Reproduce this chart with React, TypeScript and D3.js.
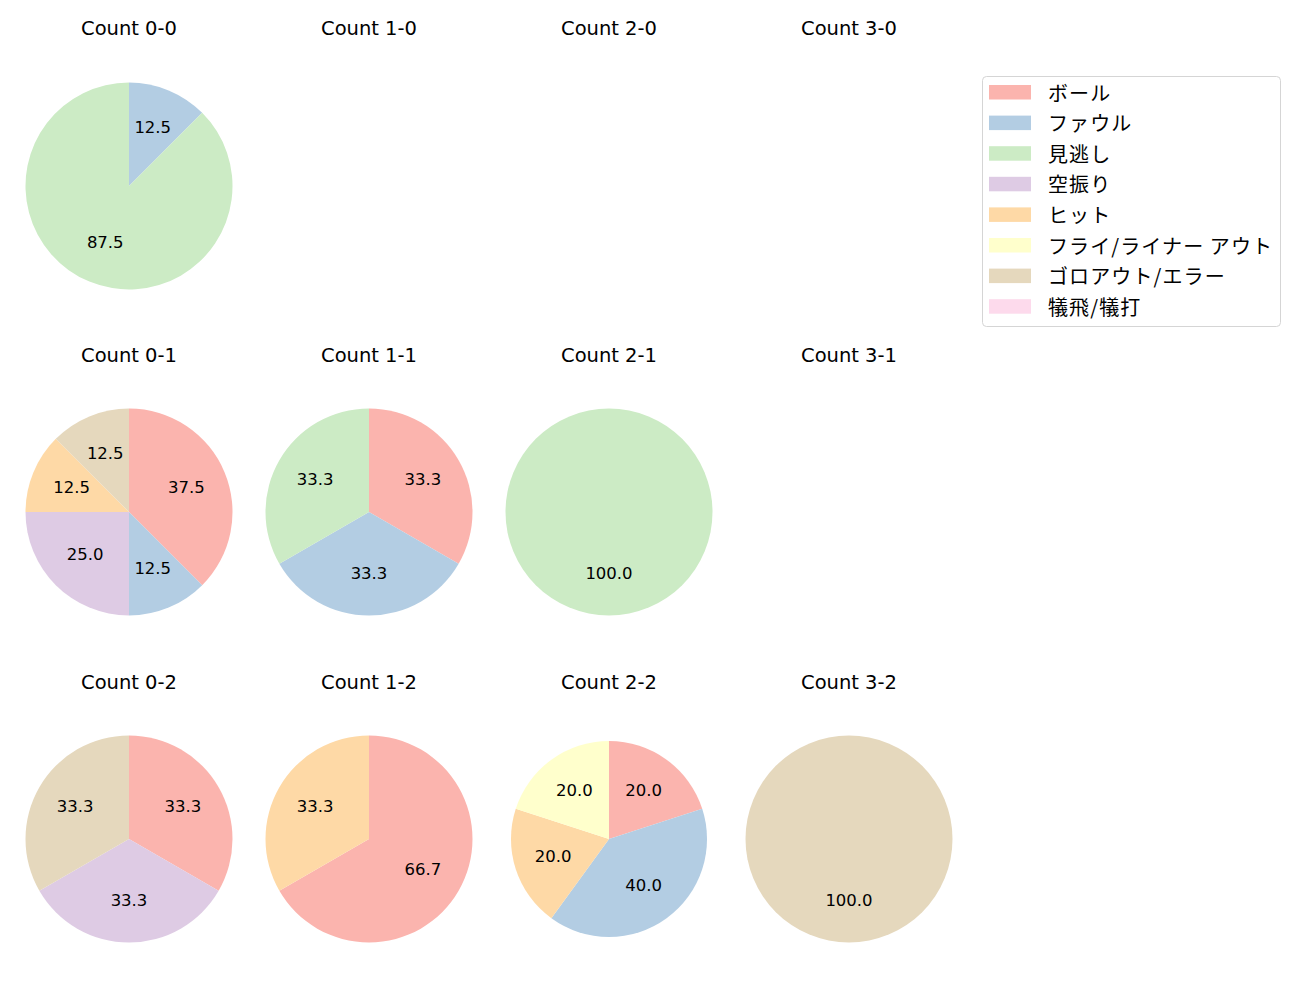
import React from "react";
import * as d3 from "d3";

const categories = ["ボール", "ファウル", "見逃し", "空振り", "ヒット", "フライ/ライナー アウト", "ゴロアウト/エラー", "犠飛/犠打"];
const colors = ["#fbb4ae", "#b3cde3", "#ccebc5", "#decbe4", "#fed9a6", "#ffffcc", "#e5d8bd", "#fddaec"];

const balls = [0, 1, 2, 3];
const strikes = [0, 1, 2];

// values per count, in category order
const count00 = [0, 1, 7, 0, 0, 0, 0, 0];
const count10: number[] = [];
const count20: number[] = [];
const count30: number[] = [];
const count01 = [3, 1, 0, 2, 1, 0, 1, 0];
const count11 = [1, 1, 1, 0, 0, 0, 0, 0];
const count21 = [0, 0, 1, 0, 0, 0, 0, 0];
const count31: number[] = [];
const count02 = [1, 0, 0, 1, 0, 0, 1, 0];
const count12 = [2, 0, 0, 0, 1, 0, 0, 0];
const count22 = [1, 2, 0, 0, 1, 1, 0, 0];
const count32 = [0, 0, 0, 0, 0, 0, 1, 0];

const grid: number[][][] = [
  [count00, count10, count20, count30],
  [count01, count11, count21, count31],
  [count02, count12, count22, count32],
];
const radiusScale = [
  [1, 1, 1, 1],
  [1, 1, 1, 1],
  [1, 1, 0.947, 1],
];

const colX = [129, 369, 609, 849];
const rowY = [186, 512, 839];
const titleY = [28, 355, 682];
const R = 103.5;
const latin = "'DejaVu Sans', 'Noto Sans CJK JP', sans-serif";
const jp = "'Noto Sans CJK JP', 'DejaVu Sans', sans-serif";

function Pie({ values, cx, cy, r }: { values: number[]; cx: number; cy: number; r: number }) {
  const total = d3.sum(values);
  if (!total) return null;
  const data = values.map((v, i) => ({ v, i })).filter((d) => d.v > 0);
  const pie = d3.pie<{ v: number; i: number }>().value((d) => d.v).sort(null).startAngle(0).endAngle(2 * Math.PI);
  const arcs = pie(data);
  const arc = d3.arc<d3.PieArcDatum<{ v: number; i: number }>>().innerRadius(0).outerRadius(r);
  return (
    <g transform={`translate(${cx},${cy})`}>
      {arcs.map((a) => (
        <path key={a.data.i} d={arc(a) || ""} fill={colors[a.data.i]} />
      ))}
      {arcs.map((a) => {
        const mid = (a.startAngle + a.endAngle) / 2;
        const x = Math.sin(mid) * r * 0.6;
        const y = -Math.cos(mid) * r * 0.6;
        return (
          <text key={"t" + a.data.i} x={x} y={y - 1} textAnchor="middle" dominantBaseline="central" fontSize={16.5} fontFamily={latin} fill="#000">
            {((a.data.v / total) * 100).toFixed(1)}
          </text>
        );
      })}
    </g>
  );
}

export default function App() {
  return (
    <svg width={1300} height={1000} style={{ display: "block", position: "absolute", left: 0, top: 0 }}>
      <rect width={1300} height={1000} fill="#fff" />
      {strikes.map((s) =>
        balls.map((b) => (
          <g key={`${b}-${s}`}>
            <text x={colX[b]} y={titleY[s]} textAnchor="middle" dominantBaseline="central" fontSize={19.5} fontFamily={latin} fill="#000">
              {`Count ${b}-${s}`}
            </text>
            <Pie values={grid[s][b]} cx={colX[b]} cy={rowY[s]} r={R * radiusScale[s][b]} />
          </g>
        ))
      )}
      <g>
        <rect x={982.5} y={76.5} width={298} height={250} rx={4} fill="#fff" stroke="#d5d5d5" strokeWidth={1} />
        {categories.map((c, i) => {
          const y = 92 + i * 30.6;
          return (
            <g key={c}>
              <rect x={989} y={y - 7} width={42} height={14.5} fill={colors[i]} />
              <text x={1048} y={y} dominantBaseline="central" fontSize={20} fontFamily={jp} fill="#000" letterSpacing={1.1}>
                {c}
              </text>
            </g>
          );
        })}
      </g>
    </svg>
  );
}
